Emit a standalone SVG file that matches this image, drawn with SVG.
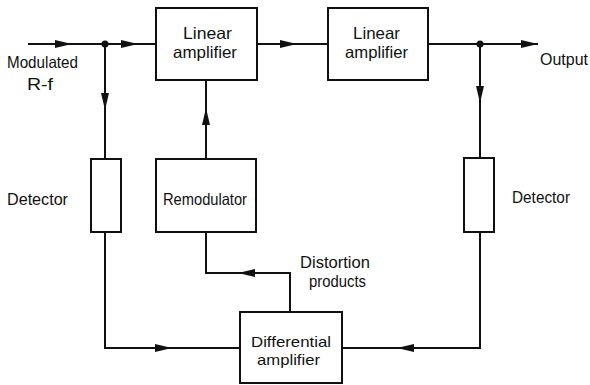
<svg xmlns="http://www.w3.org/2000/svg" xmlns:xlink="http://www.w3.org/1999/xlink" width="590" height="385" viewBox="0 0 590 385">
<style>
.box{fill:#fff;stroke:#111;stroke-width:2}
.ln{fill:none;stroke:#111;stroke-width:2}
.t{font-family:"Liberation Sans",Arial,sans-serif;font-size:16.5px;fill:#111}
.s{font-size:15px}
</style>
<defs>
<path id="ah" d="M0,0 L-17,-4 L-17,4 Z" fill="#111"/>
</defs>
<rect width="590" height="385" fill="#fff"/>
<g id="connectors">
<path class="ln" d="M28,44 H156"/>
<path class="ln" d="M105,44 V159"/>
<path class="ln" d="M105,232 V348 H240"/>
<path class="ln" d="M257,44 H328"/>
<path class="ln" d="M428,44 H538"/>
<path class="ln" d="M480,44 V158"/>
<path class="ln" d="M480,232 V348 H342"/>
<path class="ln" d="M206,159 V80"/>
<path class="ln" d="M290,312 V273 H206 V232"/>
<circle cx="105" cy="44" r="3.5" fill="#111"/>
<circle cx="480" cy="44" r="3.5" fill="#111"/>
<use xlink:href="#ah" transform="translate(72,44)"/>
<use xlink:href="#ah" transform="translate(138,44)"/>
<use xlink:href="#ah" transform="translate(105,110) rotate(90)"/>
<use xlink:href="#ah" transform="translate(297,44)"/>
<use xlink:href="#ah" transform="translate(538,44)"/>
<use xlink:href="#ah" transform="translate(480,103) rotate(90)"/>
<use xlink:href="#ah" transform="translate(206,108) rotate(-90)"/>
<use xlink:href="#ah" transform="translate(238,273) rotate(180)"/>
<use xlink:href="#ah" transform="translate(172,348)"/>
<use xlink:href="#ah" transform="translate(397,348) rotate(180)"/>
</g>
<g id="input-label">
<text class="t" x="7" y="68" textLength="71" lengthAdjust="spacingAndGlyphs">Modulated</text>
<text class="t" x="27" y="90" textLength="26" lengthAdjust="spacingAndGlyphs">R-f</text>
</g>
<g id="output-label">
<text class="t" x="540" y="65" textLength="48" lengthAdjust="spacingAndGlyphs">Output</text>
</g>
<g id="linear-amplifier-1">
<rect class="box" x="156" y="8" width="101" height="72"/>
<text class="t" x="183" y="39" textLength="49" lengthAdjust="spacingAndGlyphs">Linear</text>
<text class="t" x="173" y="58" textLength="64" lengthAdjust="spacingAndGlyphs">amplifier</text>
</g>
<g id="linear-amplifier-2">
<rect class="box" x="328" y="8" width="100" height="72"/>
<text class="t" x="353" y="39" textLength="47" lengthAdjust="spacingAndGlyphs">Linear</text>
<text class="t" x="345" y="58" textLength="63" lengthAdjust="spacingAndGlyphs">amplifier</text>
</g>
<g id="detector-left">
<rect class="box" x="91" y="159" width="30" height="73"/>
<text class="t" x="7" y="205" textLength="61" lengthAdjust="spacingAndGlyphs">Detector</text>
</g>
<g id="remodulator">
<rect class="box" x="156" y="159" width="100" height="73"/>
<text class="t" x="163" y="205" textLength="84" lengthAdjust="spacingAndGlyphs">Remodulator</text>
</g>
<g id="detector-right">
<rect class="box" x="464" y="158" width="30" height="74"/>
<text class="t" x="512" y="203" textLength="58" lengthAdjust="spacingAndGlyphs">Detector</text>
</g>
<g id="distortion-label">
<text class="t" x="300" y="268" textLength="70" lengthAdjust="spacingAndGlyphs">Distortion</text>
<text class="t" x="309" y="287" textLength="57" lengthAdjust="spacingAndGlyphs">products</text>
</g>
<g id="differential-amplifier">
<rect class="box" x="240" y="312" width="102" height="71"/>
<text class="t s" x="251" y="347" textLength="80" lengthAdjust="spacingAndGlyphs">Differential</text>
<text class="t s" x="257" y="365" textLength="63" lengthAdjust="spacingAndGlyphs">amplifier</text>
</g>
</svg>
